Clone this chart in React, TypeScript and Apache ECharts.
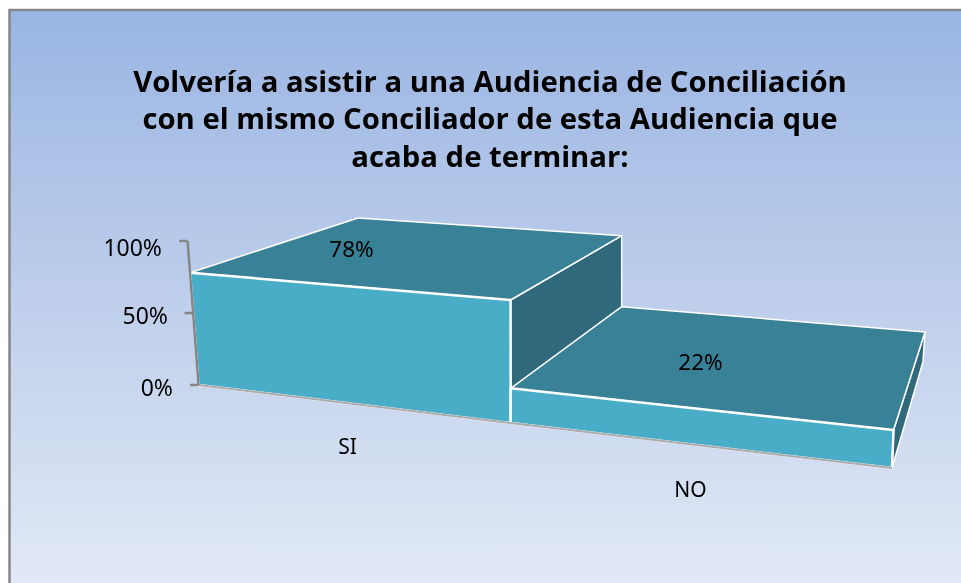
import React, { useEffect, useRef } from "react";
import * as echarts from "echarts";

const categories = ["SI", "NO"];
const values = [78, 22];
const yTicks = [0, 50, 100];
const titleText =
  "Volvería a asistir a una Audiencia de Conciliación\ncon el mismo Conciliador de esta Audiencia que\nacaba de terminar:";

// Perspective frame of the floor and the ceiling of the chart box (one corner per category edge)
const FRONT_BASE = [[198.5, 385], [510.7, 423], [892, 468]];
const FRONT_TOP = [[187.6, 241], [510.5, 265.3], [899, 295.3]];
const BACK_BASE = [[360, 310], [621.7, 334.6], [923, 361.7]];
const BACK_TOP = [[357.5, 192], [621.7, 207.8], [932, 226.7]];

const lerp = (a: number[], b: number[], t: number) => [a[0] + (b[0] - a[0]) * t, a[1] + (b[1] - a[1]) * t];
const project = (edge: number, depth: number, h: number) =>
  lerp(lerp(FRONT_BASE[edge], FRONT_TOP[edge], h), lerp(BACK_BASE[edge], BACK_TOP[edge], h), depth);

const FONT = "'Noto Sans', sans-serif";
const LABEL_DEPTH = [0.64, 0.53];
const LABEL_SHIFT = [4, 10];

export default function App() {
  const ref = useRef<HTMLDivElement>(null);
  useEffect(() => {
    const chart = echarts.init(ref.current!, undefined, { renderer: "svg" });
    const heightOf = (api: any, v: number) => {
      const y0 = api.coord([0, 0])[1];
      const y1 = api.coord([0, 100])[1];
      return (y0 - api.coord([0, v])[1]) / (y0 - y1);
    };
    const poly = (points: number[][], fill: string, lineWidth = 2) => ({
      type: "polygon",
      shape: { points },
      style: { fill, stroke: "#ffffff", lineWidth, lineJoin: "round" },
    });
    chart.setOption({
      animation: false,
      graphic: [
        {
          type: "rect",
          z: -10,
          silent: true,
          shape: { x: 9.5, y: 10, width: 970, height: 590 },
          style: {
            fill: new echarts.graphic.LinearGradient(0, 0, 0, 1, [
              { offset: 0, color: "#9AB5E3" },
              { offset: 0.5, color: "#BFCFEB" },
              { offset: 1, color: "#E3EAF6" },
            ]),
            stroke: "#868686",
            lineWidth: 2.5,
          },
        },
      ],
      title: {
        text: titleText,
        left: 485,
        top: 57,
        textAlign: "center",
        textStyle: { fontFamily: "'Open Sans', sans-serif", fontWeight: 700, fontSize: 29.3, lineHeight: 37.5, color: "#000" },
      },
      grid: { left: 176, width: 686, top: 241, height: 144 },
      xAxis: {
        type: "category",
        data: categories,
        axisLine: { show: false },
        axisTick: { show: false },
        splitLine: { show: false },
        axisLabel: {
          margin: 50,
          formatter: (v: string) => (v === "NO" ? `{b|${v}}` : `{a|${v}}`),
          rich: {
            a: { fontFamily: FONT, fontSize: 21, color: "#000" },
            b: { fontFamily: FONT, fontSize: 21, color: "#000", padding: [43, 0, 0, 0] },
          },
        },
      },
      yAxis: {
        type: "value",
        min: 0,
        max: 100,
        interval: 50,
        axisLine: { show: false },
        axisTick: { show: false },
        splitLine: { show: false },
        axisLabel: {
          margin: 3,
          formatter: (v: number) => `{t${v}|${v}%}`,
          rich: {
            t0: { fontFamily: FONT, fontSize: 23, color: "#000", padding: [4, 0, 0, 0] },
            t50: { fontFamily: FONT, fontSize: 23, color: "#000", padding: [4, 5, 0, 0] },
            t100: { fontFamily: FONT, fontSize: 23, color: "#000", padding: [12, 11, 0, 0] },
          },
        },
      },
      series: [
        {
          type: "custom",
          coordinateSystem: "cartesian2d",
          data: categories.map((_, i) => [i, values[i]]),
          renderItem: (_: any, api: any) => {
            const i = api.value(0);
            const v = api.value(1);
            const h = heightOf(api, v);
            const topFL = project(i, 0, h);
            const topFR = project(i + 1, 0, h);
            const topBL = project(i, 1, h);
            const topBR = project(i + 1, 1, h);
            const baseFL = project(i, 0, 0);
            const baseFR = project(i + 1, 0, 0);
            const baseBR = project(i + 1, 1, 0);
            const mid = lerp(lerp(topFL, topFR, 0.5), lerp(topBL, topBR, 0.5), LABEL_DEPTH[i]);
            return {
              type: "group",
              children: [
                poly([baseFR, baseBR, topBR, topFR], "#31697C", 1.5),
                poly([topFL, topFR, topBR, topBL], "#398196", 1.5),
                poly([baseFL, baseFR, topFR, topFL], "#4AADC8", 2.5),
                {
                  type: "text",
                  style: {
                    text: `${v}%`,
                    x: api.coord([i, v])[0] + LABEL_SHIFT[i],
                    y: mid[1],
                    align: "center",
                    verticalAlign: "middle",
                    fontFamily: FONT,
                    fontSize: 22.5,
                    fill: "#000",
                  },
                },
              ],
            };
          },
        },
        {
          type: "custom",
          coordinateSystem: "cartesian2d",
          data: [[0, 0]],
          silent: true,
          renderItem: (_: any, api: any) => {
            const line = (a: number[], b: number[], stroke = "#868686", lineWidth = 2.5) => ({
              type: "line",
              shape: { x1: a[0], y1: a[1], x2: b[0], y2: b[1] },
              style: { stroke, lineWidth },
            });
            const ticks = yTicks.map((t) => {
              const p = project(0, 0, heightOf(api, t));
              return line([p[0] - 8.5, p[1]], [p[0], p[1]]);
            });
            return {
              type: "group",
              children: [
                line(project(0, 0, 0), project(1, 0, 0), "#ABABAB", 2),
                line(project(1, 0, 0), project(2, 0, 0), "#ABABAB", 2),
                line(project(0, 0, 0), project(0, 0, 1)),
                ...ticks,
              ],
            };
          },
        },
      ],
    });
    return () => chart.dispose();
  }, []);
  return <div ref={ref} style={{ position: "fixed", left: 0, top: 0, width: 961, height: 583 }} />;
}
